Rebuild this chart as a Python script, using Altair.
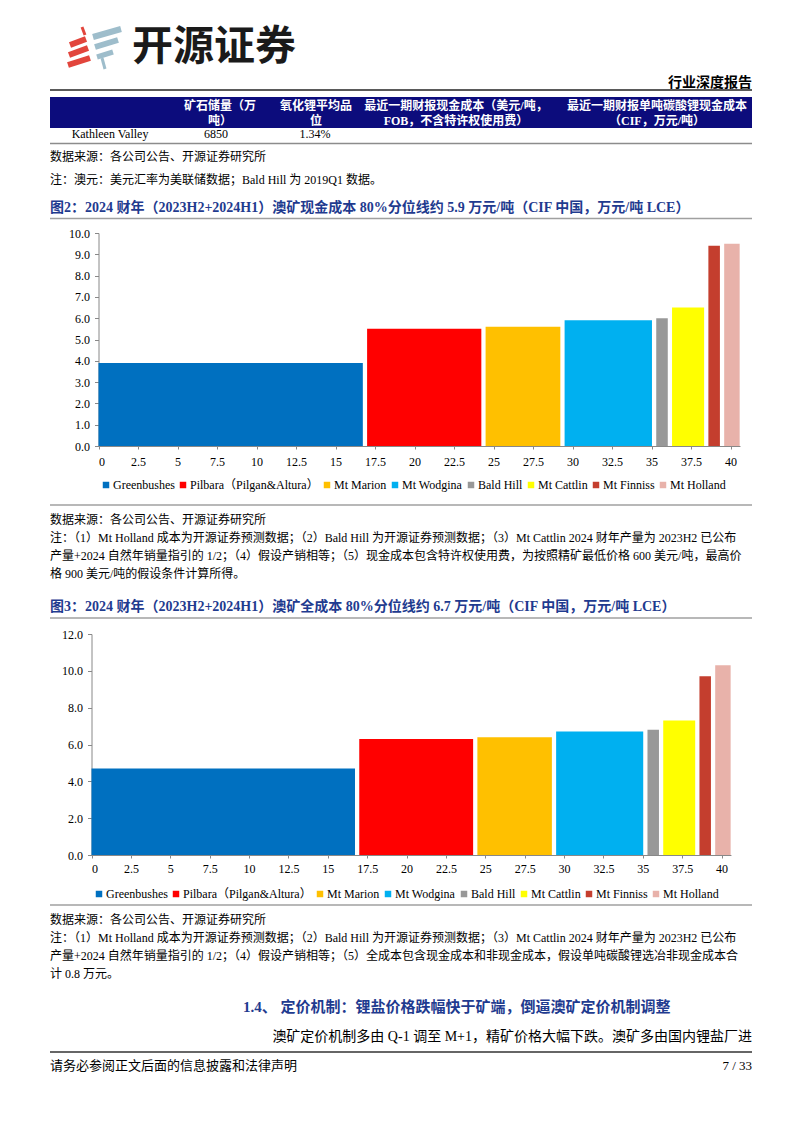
import itertools
import altair as alt
import pandas as pd

# ---------------- data ----------------
mines = ["Greenbushes", "Pilbara（Pilgan&Altura）", "Mt Marion", "Mt Wodgina",
         "Bald Hill", "Mt Cattlin", "Mt Finniss", "Mt Holland"]
output_lce = [17.0, 7.5, 5.0, 5.8, 1.0, 2.3, 1.0, 1.25]      # 万吨 LCE (bar widths)
cash_cost = [3.9, 5.5, 5.6, 5.9, 6.0, 6.5, 9.4, 9.5]          # 万元/吨 LCE
full_cost = [4.7, 6.3, 6.4, 6.7, 6.8, 7.3, 9.7, 10.3]         # 万元/吨 LCE
mine_colors = ["#0070C0", "#FF0000", "#FFC000", "#00B0F0",
               "#989898", "#FFFF00", "#C43E2E", "#E8B2AA"]
x_ticks = [0, 2.5, 5, 7.5, 10, 12.5, 15, 17.5, 20, 22.5, 25, 27.5, 30, 32.5, 35, 37.5, 40]
y1_ticks = [0, 1, 2, 3, 4, 5, 6, 7, 8, 9, 10]
y2_ticks = [0, 2, 4, 6, 8, 10, 12]

table_cols = ["矿石储量（万|吨）", "氧化锂平均品|位",
              "最近一期财报现金成本（美元/吨，|FOB，不含特许权使用费）",
              "最近一期财报单吨碳酸锂现金成本|（CIF，万元/吨）"]
table_row = ["Kathleen Valley", "6850", "1.34%"]

title1 = "图2：2024 财年（2023H2+2024H1）澳矿现金成本 80%分位线约 5.9 万元/吨（CIF 中国，万元/吨 LCE）"
title2 = "图3：2024 财年（2023H2+2024H1）澳矿全成本 80%分位线约 6.7 万元/吨（CIF 中国，万元/吨 LCE）"
source = "数据来源：各公司公告、开源证券研究所"
note0 = "注：澳元：美元汇率为美联储数据；Bald Hill 为 2019Q1 数据。"
notes1 = ["注：（1）Mt Holland 成本为开源证券预测数据；（2）Bald Hill 为开源证券预测数据；（3）Mt Cattlin 2024 财年产量为 2023H2 已公布",
          "产量+2024 自然年销量指引的 1/2；（4）假设产销相等；（5）现金成本包含特许权使用费，为按照精矿最低价格 600 美元/吨，最高价",
          "格 900 美元/吨的假设条件计算所得。"]
notes2 = ["注：（1）Mt Holland 成本为开源证券预测数据；（2）Bald Hill 为开源证券预测数据；（3）Mt Cattlin 2024 财年产量为 2023H2 已公布",
          "产量+2024 自然年销量指引的 1/2；（4）假设产销相等；（5）全成本包含现金成本和非现金成本，假设单吨碳酸锂选冶非现金成本合",
          "计 0.8 万元。"]
heading = "1.4、 定价机制：锂盐价格跌幅快于矿端，倒逼澳矿定价机制调整"
body = "澳矿定价机制多由 Q-1 调至 M+1，精矿价格大幅下跌。澳矿多由国内锂盐厂进"
footer_l = "请务必参阅正文后面的信息披露和法律声明"
footer_r = "7 / 33"

# ---------------- helpers ----------------
SERIF = "Liberation Serif, Noto Sans CJK SC"
CJK = "Noto Sans CJK SC"
NAVY = "#0C0C7C"
TBLUE = "#1F3B8F"
OX, OY = 8, 8
one = alt.Data(values=[{"k": 0}])


def T(s, x, y, size=12, weight="normal", color="#000000", align="left", font=SERIF):
    return alt.Chart(one).mark_text(
        align=align, baseline="middle", fontSize=size, fontWeight=weight,
        color=color, font=font
    ).encode(x=alt.value(x - OX), y=alt.value(y - OY), text=alt.value(s))


def R(x1, y1, x2, y2, color, w, cap="butt"):
    return alt.Chart(one).mark_rule(color=color, strokeWidth=w, strokeCap=cap).encode(
        x=alt.value(x1 - OX), x2=alt.value(x2 - OX),
        y=alt.value(y1 - OY), y2=alt.value(y2 - OY))


def B(x1, y1, x2, y2, color):
    return alt.Chart(one).mark_rect(color=color).encode(
        x=alt.value(x1 - OX), x2=alt.value(x2 - OX),
        y=alt.value(y1 - OY), y2=alt.value(y2 - OY))


def cost_df(costs, gap=0.27):
    ends = list(itertools.accumulate(output_lce))
    starts = [e - w for e, w in zip(ends, output_lce)]
    return pd.DataFrame({"mine": mines, "x0": starts,
                         "x1": [e - gap for e in ends], "cost": costs})


def cost_chart(costs, ymax, yticks, x0px, pxu, ybot, ytop, leg_x, leg_y, xpad):
    xr = [x0px - OX, x0px - OX + 40.6 * pxu]
    yr = [ybot - OY, ytop - OY]
    return alt.Chart(cost_df(costs)).mark_rect().encode(
        x=alt.X("x0:Q", title=None,
                scale=alt.Scale(domain=[0, 40.6], range=xr, nice=False, zero=False),
                axis=alt.Axis(values=x_ticks, format=".1~f", orient="bottom",
                              offset=(ybot - OY) - 1117, labelPadding=xpad,
                              tickSize=3)),
        x2="x1:Q",
        y=alt.Y("cost:Q", title=None,
                scale=alt.Scale(domain=[0, ymax], range=yr, nice=False),
                axis=alt.Axis(values=yticks, format=".1f", orient="left",
                              offset=-(x0px - OX), labelPadding=5, tickSize=4)),
        y2=alt.datum(0),
        color=alt.Color("mine:N", title=None,
                        scale=alt.Scale(domain=mines, range=mine_colors),
                        legend=alt.Legend(orient="none", legendX=leg_x - OX,
                                          legendY=leg_y - OY, direction="horizontal",
                                          columns=8, symbolType="square",
                                          symbolSize=42, symbolStrokeWidth=0,
                                          labelFont=SERIF, labelFontSize=12,
                                          labelColor="#000000", labelOffset=1,
                                          columnPadding=2, padding=0)),
    )


layers = []

# logo
red, blu = "#E2453C", "#9EBDCB"
layers += [R(82, 27, 85, 35, red, 3), R(70, 45, 86, 39, red, 6),
           R(69, 55, 88, 48, red, 6), R(68, 65, 90, 58, red, 6),
           R(93, 37, 121, 29, blu, 6), R(95, 47, 118, 40, blu, 6),
           R(97, 57, 113, 52, blu, 5), R(102, 58, 105, 69, blu, 3)]
layers.append(T("开源证券", 132, 48, size=41, weight="bold", color="#1A1A1A", font=CJK))
layers.append(T("行业深度报告", 752, 83, size=14, weight="bold", align="right"))
layers.append(R(50, 90, 752, 90, "#5A5A5A", 2))

# table
layers.append(B(50, 97, 752, 128, NAVY))
col_x = [220, 316, 456, 657]
for cx, lab in zip(col_x, table_cols):
    l1, l2 = lab.split("|")
    layers.append(T(l1, cx, 105.5, size=12, weight="bold", color="#FFFFFF", align="center"))
    layers.append(T(l2, cx, 120.5, size=12, weight="bold", color="#FFFFFF", align="center"))
for cx, v in zip([110, 216, 315], table_row):
    layers.append(T(v, cx, 134, size=12, align="center"))
layers.append(R(50, 143.5, 752, 143.5, "#8C8C8C", 1.5))
layers.append(T(source, 50, 157))
layers.append(T(note0, 50, 180))

# chart 1
layers.append(T(title1, 50, 208, size=14, weight="bold", color=TBLUE))
layers.append(R(50, 218.5, 752, 218.5, "#A0A0A0", 1.5))
layers.append(cost_chart(cash_cost, 10, y1_ticks, 98.5, 15.8, 446, 233, 100, 479, 7))
layers.append(R(50, 505, 752, 505, "#A0A0A0", 1.5))
layers.append(T(source, 50, 520))
for i, s in enumerate(notes1):
    layers.append(T(s, 50, 538 + 18 * i))

# chart 2
layers.append(T(title2, 50, 607, size=14, weight="bold", color=TBLUE))
layers.append(R(50, 618, 752, 618, "#A0A0A0", 1.5))
layers.append(cost_chart(full_cost, 12, y2_ticks, 91.5, 15.75, 855, 634, 93, 888, 5))
layers.append(R(50, 905, 752, 905, "#A0A0A0", 1.5))
layers.append(T(source, 50, 920))
for i, s in enumerate(notes2):
    layers.append(T(s, 50, 938 + 18 * i))

# section heading, body, footer
layers.append(T(heading, 243, 1007, size=15, weight="bold", color=TBLUE))
layers.append(T(body, 752, 1037, size=14, align="right"))
layers.append(R(50, 1052, 752, 1052, "#333333", 1.5))
layers.append(T(footer_l, 50, 1066, size=13))
layers.append(T(footer_r, 752, 1066, size=13, align="right"))

chart = alt.layer(*layers).resolve_scale(
    x="independent", y="independent", color="independent"
).properties(
    width=786, height=1117, padding=0, background="white",
    autosize=alt.AutoSizeParams(type="none"),
).configure_view(strokeWidth=0).configure_axis(
    labelFont=SERIF, labelFontSize=12, labelColor="#000000",
    domainColor="#888888", tickColor="#888888", grid=False, domainWidth=1,
)

chart.save("out.html", embed_options={"renderer": "svg", "actions": False})
